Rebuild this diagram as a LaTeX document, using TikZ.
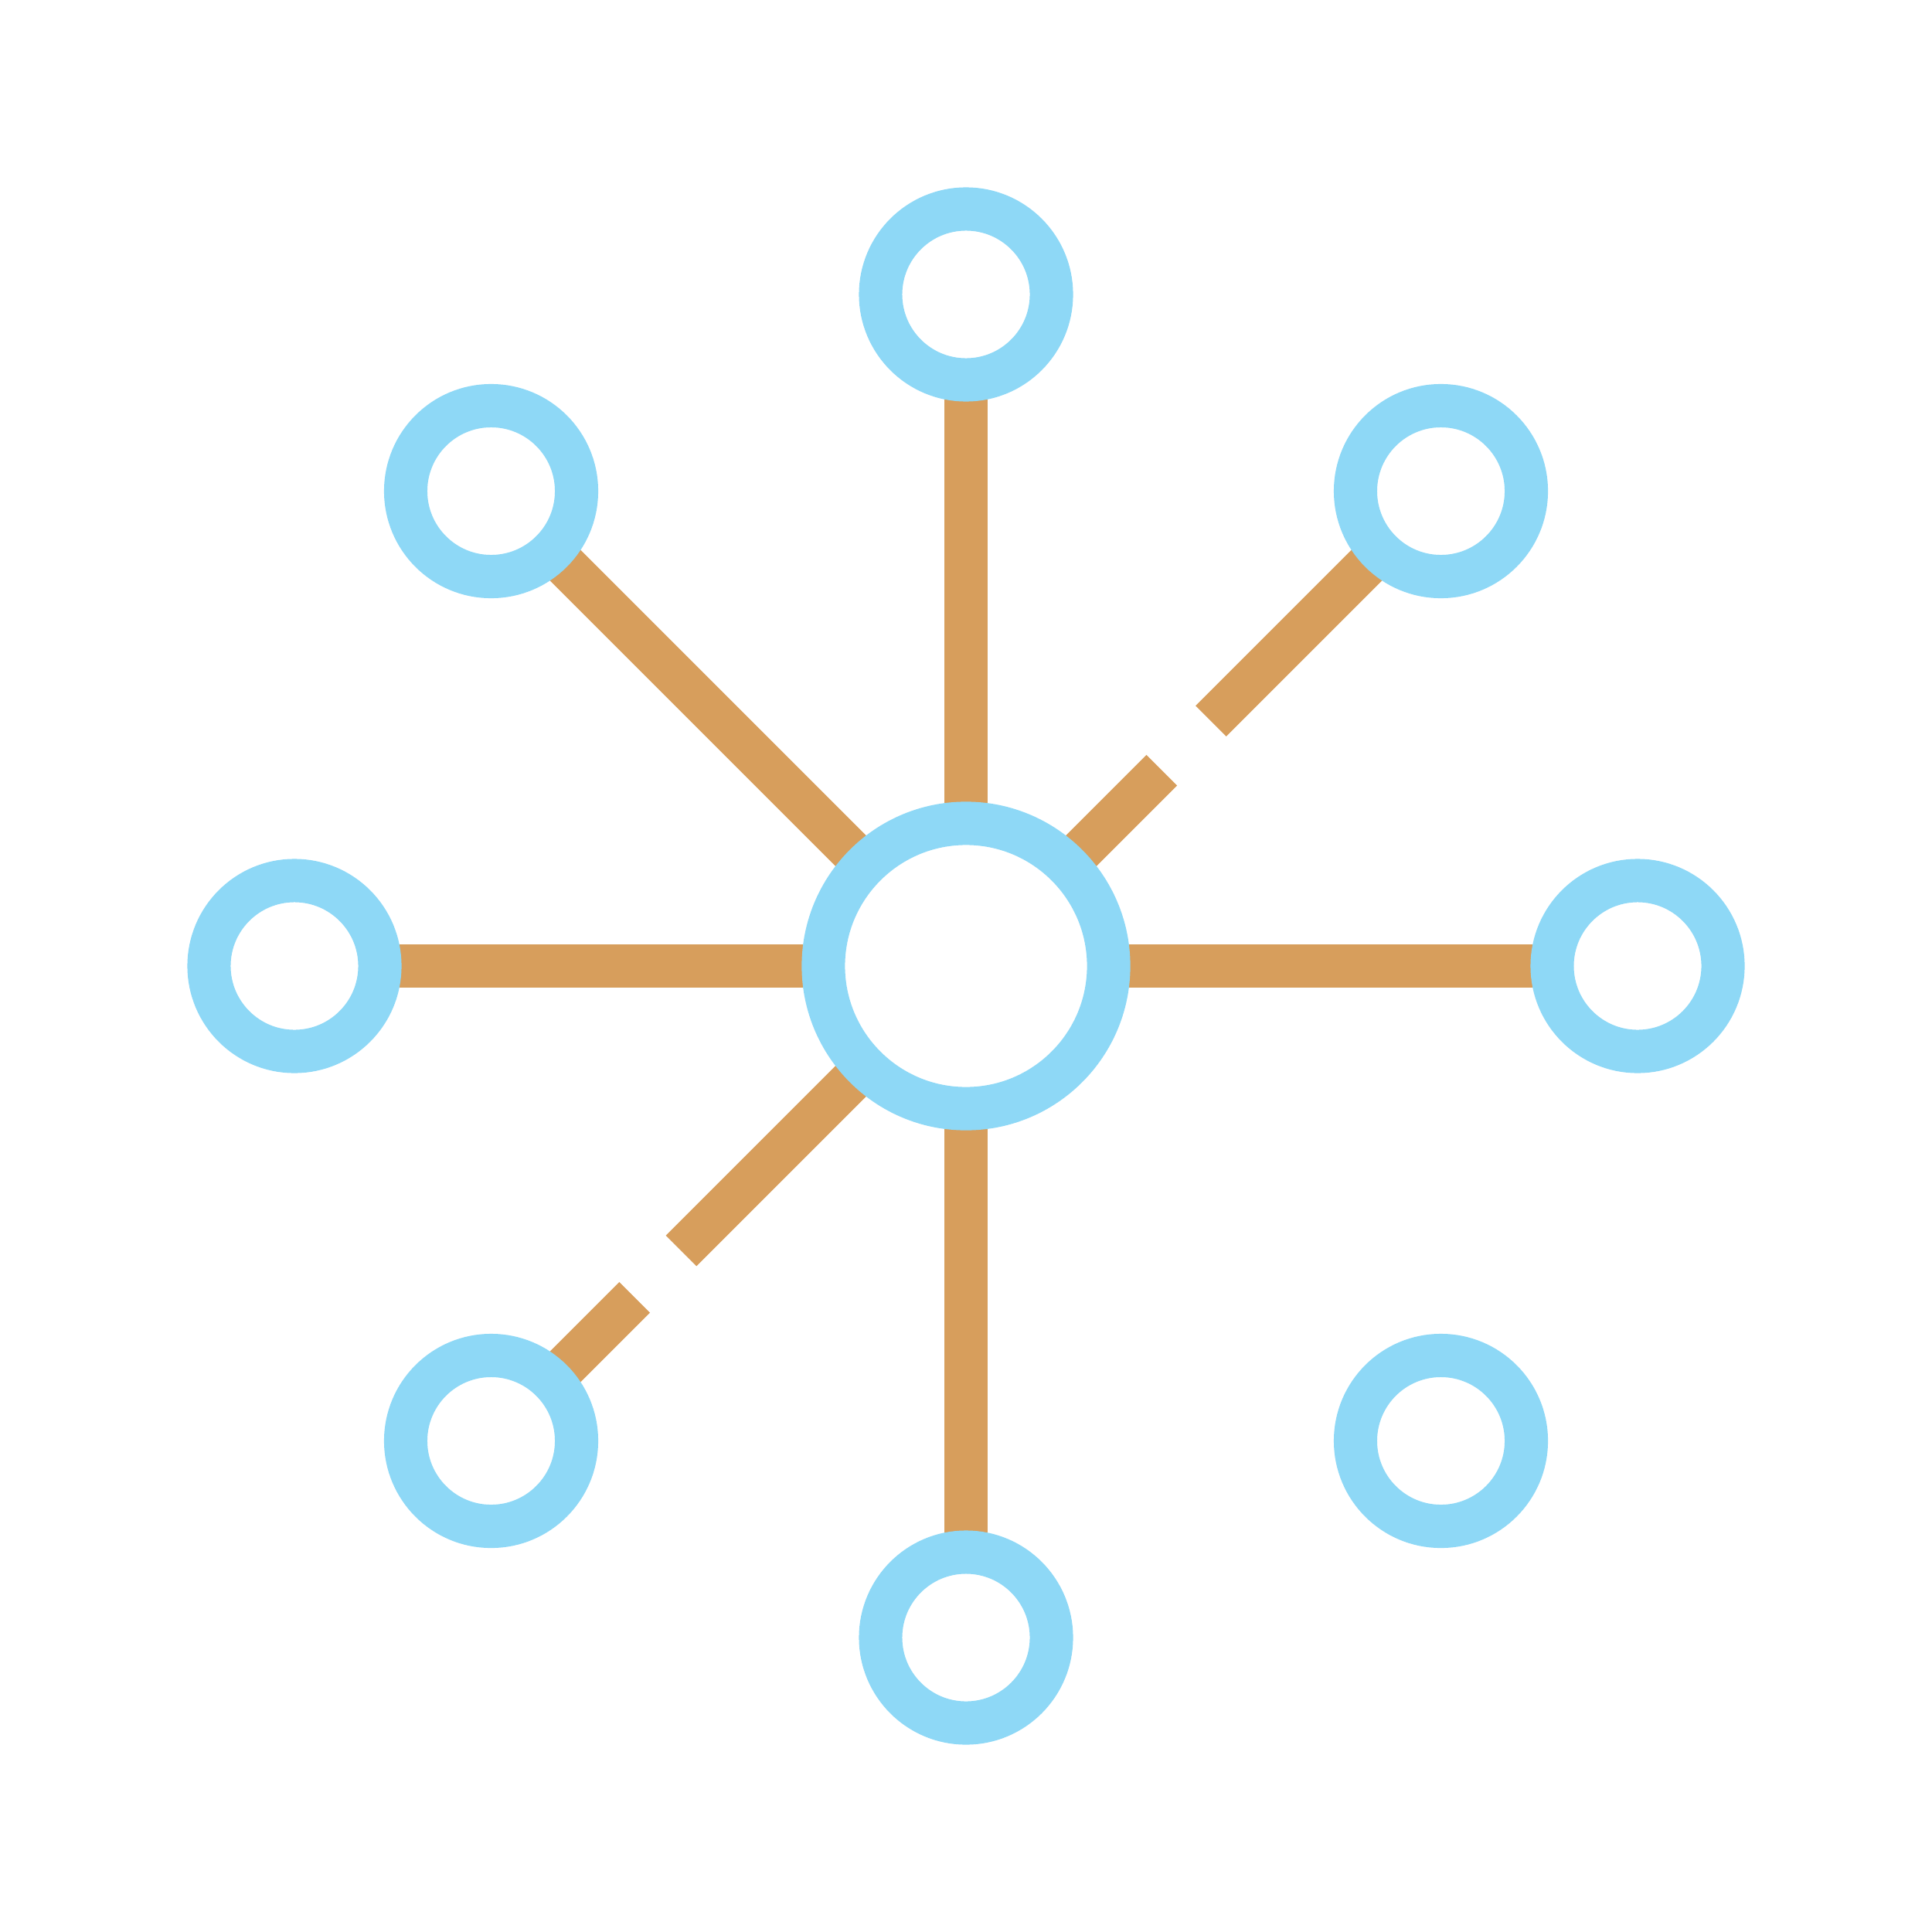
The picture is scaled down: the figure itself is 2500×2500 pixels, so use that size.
\documentclass[tikz,border=0pt]{standalone}
\usetikzlibrary{backgrounds}
\definecolor{ringblue}{RGB}{142,216,246}
\definecolor{linkorange}{RGB}{215,158,92}
\begin{document}
\begin{tikzpicture}[x=0.01cm,y=-0.01cm,
  ring/.style={circle,draw=ringblue,fill=white,line width=0.56cm,inner sep=0pt,minimum size=2.21cm},
  hub/.style={ring,minimum size=3.69cm},
  link/.style={draw=linkorange,line width=0.56cm,line cap=butt}]
\useasboundingbox (0,0) rectangle (2500,2500);
\node[hub] (c) at (1250,1250) {};
\node[ring] (n) at (1250,381) {};
\node[ring] (s) at (1250,2119) {};
\node[ring] (w) at (381,1250) {};
\node[ring] (e) at (2119,1250) {};
\node[ring] (nw) at (635.5,635.5) {};
\node[ring] (ne) at (1864.5,635.5) {};
\node[ring] (sw) at (635.5,1864.5) {};
\node[ring] (se) at (1864.5,1864.5) {};
\begin{pgfonlayer}{background}
\draw[link] (c.center) -- (n.center);
\draw[link] (c.center) -- (s.center);
\draw[link] (c.center) -- (w.center);
\draw[link] (c.center) -- (e.center);
\draw[link] (c.center) -- (nw.center);
\draw[link,dash pattern=on 3.58cm off 0.90cm on 6cm] (c.center) -- (ne.center);
\draw[link,dash pattern=on 5.21cm off 0.85cm on 6cm] (c.center) -- (sw.center);
\end{pgfonlayer}
\end{tikzpicture}
\end{document}
